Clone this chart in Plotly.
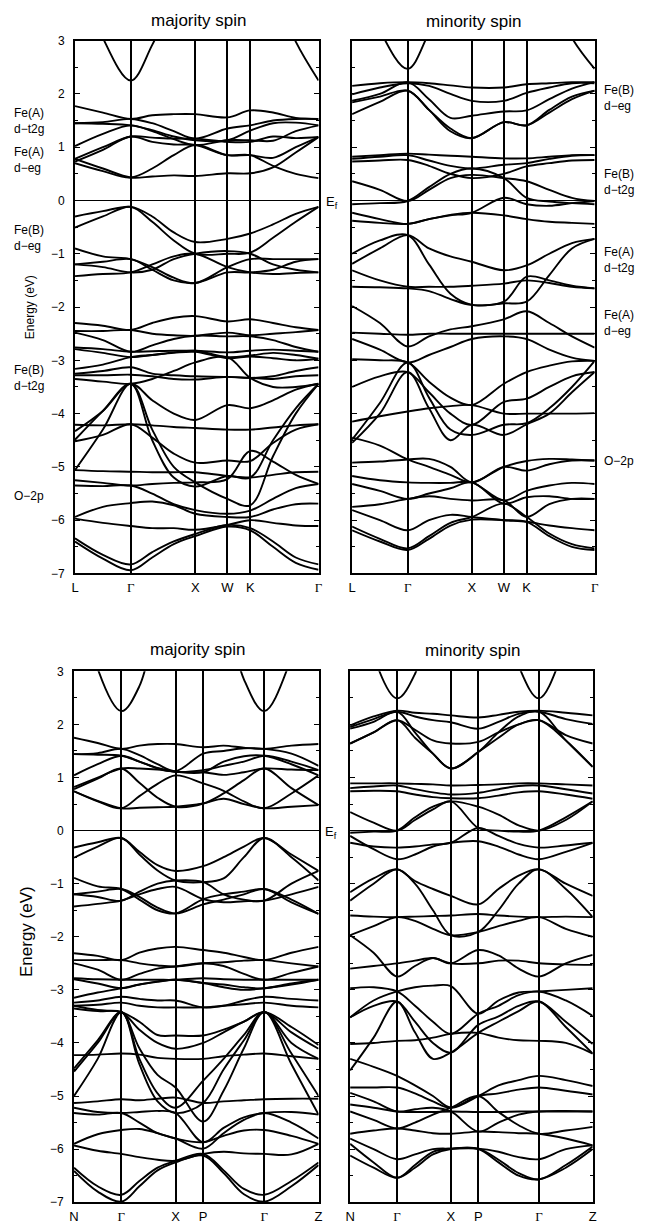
import plotly.graph_objects as go

# ---------------- k-paths ----------------
GAMMA = "<span style='font-family:Liberation Serif, Times New Roman, serif'>Γ</span>"
top_kpts = [0.0, 0.866, 1.866, 2.366, 2.720, 3.781]
top_klabels = ["L", GAMMA, "X", "W", "K", GAMMA]
top_knodes = [0.0, 0.433, 0.866, 1.199, 1.533, 1.866, 2.366, 2.720, 3.074, 3.427, 3.781]

bot_kpts = [0.0, 48.0, 103.0, 131.0, 193.0, 248.0]
bot_klabels = ["N", GAMMA, "X", "P", GAMMA, "Z"]
bot_knodes = [0.0, 24.0, 48.0, 66.3, 84.7, 103.0, 131.0, 151.7, 172.3, 193.0, 220.5, 248.0]

energy_ticks = [3, 2, 1, 0, -1, -2, -3, -4, -5, -6, -7]

# ---------------- top-left: majority spin (L-G-X-W-K-G) ----------------
maj_top_bands = [
    [4.6, 3.05, 2.25, 2.92, 3.8, 4.5, 4.8, 4.7, 4.0, 2.98, 2.25],
    [1.77, 1.65, 1.53, 1.60, 1.62, 1.62, 1.56, 1.69, 1.65, 1.55, 1.53],
    [1.45, 1.47, 1.53, 1.45, 1.30, 1.16, 1.35, 1.41, 1.50, 1.53, 1.53],
    [1.45, 1.44, 1.41, 1.32, 1.20, 1.13, 1.13, 1.31, 1.45, 1.46, 1.41],
    [1.02, 1.25, 1.41, 1.30, 1.15, 1.04, 1.13, 1.13, 1.12, 1.30, 1.41],
    [0.78, 1.00, 1.20, 1.18, 1.16, 1.16, 1.10, 1.10, 1.20, 1.17, 1.19],
    [0.73, 0.95, 1.20, 1.10, 1.05, 1.04, 0.85, 0.85, 0.80, 1.00, 1.19],
    [0.70, 0.55, 0.43, 0.60, 0.85, 1.04, 0.85, 0.85, 0.65, 0.50, 0.42],
    [0.78, 0.60, 0.43, 0.45, 0.47, 0.46, 0.51, 0.51, 0.62, 0.90, 1.19],
    [-0.30, -0.20, -0.12, -0.30, -0.60, -0.78, -0.72, -0.62, -0.45, -0.25, -0.12],
    [-0.51, -0.30, -0.12, -0.40, -0.75, -1.00, -1.00, -0.98, -0.70, -0.40, -0.12],
    [-0.90, -1.05, -1.10, -1.25, -1.45, -1.55, -1.25, -1.10, -1.10, -1.10, -1.10],
    [-1.20, -1.15, -1.10, -1.30, -1.50, -1.55, -1.35, -1.35, -1.30, -1.15, -1.10],
    [-1.42, -1.38, -1.35, -1.20, -1.05, -1.00, -1.25, -1.35, -1.38, -1.36, -1.35],
    [-1.20, -1.25, -1.35, -1.30, -1.10, -1.00, -0.95, -1.00, -1.20, -1.30, -1.35],
    [-2.30, -2.35, -2.43, -2.30, -2.20, -2.17, -2.27, -2.23, -2.30, -2.38, -2.43],
    [-2.45, -2.45, -2.43, -2.50, -2.53, -2.54, -2.48, -2.53, -2.50, -2.47, -2.43],
    [-2.48, -2.62, -2.84, -2.72, -2.60, -2.54, -2.55, -2.55, -2.62, -2.75, -2.84],
    [-2.76, -2.79, -2.84, -2.83, -2.82, -2.82, -2.85, -2.82, -2.80, -2.82, -2.84],
    [-2.79, -2.86, -2.94, -2.90, -2.85, -2.82, -2.94, -2.91, -2.86, -2.90, -2.97],
    [-3.16, -3.08, -2.94, -2.90, -2.86, -2.84, -2.96, -2.93, -2.96, -3.00, -2.97],
    [-3.25, -3.20, -3.13, -3.25, -3.28, -3.30, -3.31, -3.33, -3.30, -3.20, -3.13],
    [-3.28, -3.28, -3.27, -3.30, -3.35, -3.36, -3.31, -3.33, -3.35, -3.30, -3.28],
    [-3.35, -3.40, -3.44, -3.35, -3.20, -3.04, -2.94, -3.33, -3.50, -3.50, -3.44],
    [-4.21, -4.22, -4.20, -4.22, -4.25, -4.27, -4.30, -4.30, -4.26, -4.22, -4.20],
    [-4.33, -3.95, -3.44, -3.75, -4.00, -4.12, -3.84, -3.90, -3.75, -3.55, -3.44],
    [-4.49, -3.95, -3.44, -4.30, -5.00, -5.29, -5.60, -5.72, -4.80, -4.00, -3.44],
    [-5.06, -4.30, -3.44, -4.50, -5.20, -5.37, -5.17, -5.20, -4.50, -3.90, -3.44],
    [-4.52, -4.40, -4.20, -4.45, -4.75, -4.92, -4.88, -4.89, -4.55, -4.30, -4.20],
    [-5.06, -5.08, -5.09, -5.10, -5.10, -5.10, -5.17, -5.20, -5.15, -5.10, -5.09],
    [-5.25, -5.30, -5.35, -5.32, -5.30, -5.29, -5.23, -4.70, -4.90, -5.15, -5.32],
    [-5.35, -5.36, -5.35, -5.50, -5.70, -5.81, -5.88, -5.82, -5.60, -5.40, -5.32],
    [-5.94, -5.75, -5.68, -5.65, -5.72, -5.88, -5.94, -5.94, -5.80, -5.70, -5.69],
    [-5.97, -6.05, -6.11, -6.15, -6.15, -6.18, -6.09, -6.00, -6.05, -6.10, -6.11],
    [-6.34, -6.65, -6.83, -6.60, -6.40, -6.26, -6.09, -6.15, -6.40, -6.70, -6.83],
    [-6.40, -6.72, -6.94, -6.70, -6.45, -6.30, -6.12, -6.19, -6.50, -6.80, -6.93],
]

# ---------------- top-right: minority spin (L-G-X-W-K-G) ----------------
min_top_bands = [
    [4.8, 3.2, 2.47, 3.15, 4.0, 4.6, 4.9, 4.8, 4.0, 3.05, 2.47],
    [2.15, 2.20, 2.22, 2.20, 2.16, 2.12, 2.12, 2.18, 2.20, 2.22, 2.22],
    [1.99, 2.12, 2.20, 2.15, 2.00, 1.87, 1.87, 2.02, 2.12, 2.20, 2.20],
    [1.87, 2.00, 2.22, 1.90, 1.55, 1.59, 1.67, 1.69, 1.90, 2.10, 2.22],
    [1.84, 1.95, 2.06, 1.70, 1.30, 1.17, 1.47, 1.41, 1.70, 1.95, 2.06],
    [1.62, 1.85, 2.06, 1.70, 1.35, 1.17, 1.47, 1.41, 1.65, 1.90, 2.06],
    [0.82, 0.85, 0.88, 0.86, 0.84, 0.82, 0.79, 0.79, 0.82, 0.85, 0.85],
    [0.78, 0.82, 0.85, 0.75, 0.65, 0.60, 0.67, 0.70, 0.78, 0.84, 0.85],
    [0.73, 0.75, 0.76, 0.65, 0.50, 0.42, 0.50, 0.64, 0.70, 0.75, 0.76],
    [0.36, 0.20, -0.01, 0.20, 0.42, 0.48, 0.42, 0.36, 0.20, 0.05, -0.01],
    [-0.07, -0.05, -0.01, 0.25, 0.50, 0.60, 0.42, 0.05, -0.02, -0.05, -0.07],
    [-0.23, -0.35, -0.44, -0.35, -0.28, -0.23, 0.05, -0.07, -0.10, -0.05, -0.01],
    [-0.38, -0.42, -0.44, -0.35, -0.27, -0.23, -0.28, -0.35, -0.40, -0.42, -0.44],
    [-1.00, -0.75, -0.65, -1.20, -1.75, -1.96, -1.93, -1.90, -1.40, -0.90, -0.72],
    [-1.19, -0.90, -0.65, -0.90, -1.05, -1.15, -1.31, -1.22, -1.00, -0.80, -0.72],
    [-1.31, -1.50, -1.62, -1.62, -1.62, -1.60, -1.56, -1.50, -1.55, -1.62, -1.65],
    [-1.62, -1.63, -1.65, -1.70, -1.85, -1.96, -1.90, -1.43, -1.50, -1.60, -1.65],
    [-1.98, -2.30, -2.74, -2.55, -2.42, -2.36, -2.23, -2.08, -2.30, -2.55, -2.76],
    [-2.48, -2.50, -2.52, -2.50, -2.50, -2.50, -2.50, -2.50, -2.50, -2.50, -2.50],
    [-2.60, -2.80, -3.04, -2.90, -2.75, -2.60, -2.55, -2.60, -2.80, -2.95, -3.01],
    [-2.98, -3.00, -3.04, -3.40, -3.70, -3.84, -3.44, -3.22, -3.10, -3.02, -3.01],
    [-3.50, -3.30, -3.22, -3.60, -4.00, -4.21, -3.78, -3.72, -3.50, -3.30, -3.22],
    [-4.15, -4.05, -3.96, -3.90, -3.86, -3.84, -4.00, -4.00, -4.00, -4.00, -3.99],
    [-4.49, -3.80, -3.04, -3.70, -4.30, -4.40, -4.21, -4.18, -3.90, -3.50, -3.01],
    [-4.55, -4.00, -3.22, -3.90, -4.50, -4.21, -4.40, -4.20, -4.00, -3.60, -3.22],
    [-4.45, -4.60, -4.86, -5.00, -5.15, -5.29, -5.00, -4.89, -4.85, -4.86, -4.88],
    [-4.92, -4.90, -4.86, -4.85, -5.00, -5.29, -5.00, -5.07, -4.95, -4.88, -4.88],
    [-5.17, -5.25, -5.29, -5.30, -5.30, -5.29, -5.63, -5.45, -5.35, -5.30, -5.32],
    [-5.32, -5.45, -5.60, -5.50, -5.40, -5.29, -5.69, -5.57, -5.55, -5.60, -5.60],
    [-5.75, -5.70, -5.60, -5.55, -5.60, -5.63, -5.63, -5.94, -5.70, -5.60, -5.60],
    [-5.81, -6.00, -6.19, -6.00, -5.90, -5.94, -6.00, -6.03, -6.10, -6.15, -6.19],
    [-6.12, -6.35, -6.53, -6.30, -6.05, -5.94, -5.69, -5.94, -6.25, -6.45, -6.53],
    [-6.19, -6.40, -6.56, -6.35, -6.10, -5.99, -6.00, -6.03, -6.30, -6.50, -6.56],
]

# ---------------- bottom-left: majority spin (N-G-X-P-G-Z) ----------------
maj_bot_bands = [
    [5.5, 3.05, 2.25, 2.72, 4.0, 5.0, 5.5, 4.3, 2.85, 2.25, 3.25, 5.0],
    [1.75, 1.65, 1.54, 1.60, 1.63, 1.63, 1.57, 1.60, 1.56, 1.54, 1.60, 1.63],
    [1.44, 1.46, 1.54, 1.42, 1.25, 1.12, 1.45, 1.50, 1.55, 1.54, 1.45, 1.22],
    [1.44, 1.43, 1.41, 1.30, 1.18, 1.11, 1.14, 1.22, 1.30, 1.41, 1.30, 1.14],
    [1.04, 1.25, 1.41, 1.30, 1.17, 1.11, 1.10, 1.30, 1.40, 1.41, 1.25, 1.04],
    [0.82, 1.00, 1.17, 1.17, 1.15, 1.11, 1.10, 1.05, 1.10, 1.17, 1.15, 1.14],
    [0.78, 0.98, 1.17, 0.90, 0.62, 0.45, 0.51, 0.70, 0.95, 1.17, 0.80, 0.48],
    [0.74, 0.55, 0.42, 0.65, 0.88, 1.04, 0.89, 0.75, 0.55, 0.42, 0.70, 1.04],
    [0.74, 0.56, 0.42, 0.43, 0.44, 0.45, 0.51, 0.60, 0.50, 0.42, 0.45, 0.48],
    [-0.32, -0.22, -0.14, -0.40, -0.65, -0.76, -0.67, -0.50, -0.30, -0.14, -0.45, -0.76],
    [-0.51, -0.30, -0.14, -0.45, -0.75, -0.94, -0.97, -0.90, -0.50, -0.14, -0.50, -0.94],
    [-0.89, -1.05, -1.10, -1.30, -1.50, -1.56, -1.29, -1.20, -1.15, -1.10, -1.30, -1.57],
    [-1.20, -1.15, -1.10, -1.25, -1.45, -1.56, -1.39, -1.30, -1.20, -1.10, -1.35, -1.57],
    [-1.43, -1.38, -1.32, -1.20, -1.10, -1.06, -1.29, -1.35, -1.33, -1.32, -1.20, -1.06],
    [-1.20, -1.25, -1.32, -1.15, -1.00, -0.94, -0.97, -1.20, -1.30, -1.32, -1.00, -0.76],
    [-2.31, -2.36, -2.44, -2.30, -2.22, -2.19, -2.25, -2.30, -2.38, -2.44, -2.30, -2.19],
    [-2.44, -2.44, -2.44, -2.50, -2.54, -2.56, -2.50, -2.48, -2.45, -2.44, -2.50, -2.56],
    [-2.50, -2.62, -2.81, -2.70, -2.60, -2.56, -2.50, -2.55, -2.70, -2.81, -2.68, -2.56],
    [-2.78, -2.80, -2.81, -2.81, -2.81, -2.81, -2.78, -2.80, -2.81, -2.81, -2.81, -2.81],
    [-2.80, -2.88, -2.97, -2.90, -2.84, -2.81, -2.87, -2.90, -2.95, -2.97, -2.88, -2.81],
    [-3.15, -3.05, -2.97, -2.90, -2.85, -2.81, -2.87, -2.95, -3.00, -2.97, -2.90, -2.81],
    [-3.24, -3.20, -3.13, -3.17, -3.20, -3.20, -3.33, -3.30, -3.20, -3.13, -3.17, -3.20],
    [-3.30, -3.28, -3.24, -3.30, -3.33, -3.33, -3.33, -3.30, -3.27, -3.24, -3.30, -3.33],
    [-3.30, -3.38, -3.42, -3.60, -3.85, -3.86, -3.86, -3.75, -3.60, -3.42, -3.70, -4.04],
    [-3.35, -3.40, -3.42, -3.75, -4.00, -4.11, -4.00, -3.80, -3.60, -3.42, -3.80, -4.11],
    [-4.23, -4.22, -4.20, -4.22, -4.28, -4.30, -4.30, -4.25, -4.22, -4.20, -4.25, -4.30],
    [-4.48, -3.95, -3.42, -4.30, -4.95, -5.22, -4.71, -4.30, -3.85, -3.42, -4.20, -5.00],
    [-4.54, -4.00, -3.42, -4.40, -5.10, -5.32, -5.13, -4.50, -3.95, -3.42, -4.40, -5.35],
    [-5.00, -4.30, -3.42, -4.10, -4.60, -4.84, -5.48, -4.90, -4.10, -3.42, -4.00, -4.30],
    [-5.13, -5.10, -5.06, -5.08, -5.05, -5.03, -5.13, -5.10, -5.08, -5.06, -5.05, -5.05],
    [-5.22, -5.30, -5.32, -5.30, -5.28, -5.32, -5.87, -5.60, -5.40, -5.32, -5.30, -5.35],
    [-5.32, -5.35, -5.32, -5.50, -5.70, -5.80, -5.99, -5.70, -5.45, -5.32, -5.50, -5.80],
    [-5.90, -5.72, -5.64, -5.62, -5.70, -5.80, -5.87, -5.75, -5.65, -5.64, -5.75, -5.90],
    [-5.93, -6.03, -6.09, -6.15, -6.20, -6.22, -6.09, -6.05, -6.08, -6.09, -6.10, -5.90],
    [-6.35, -6.70, -6.86, -6.60, -6.35, -6.22, -6.09, -6.40, -6.75, -6.86, -6.60, -6.25],
    [-6.41, -6.80, -6.99, -6.70, -6.40, -6.25, -6.12, -6.45, -6.85, -6.99, -6.70, -6.30],
]

# ---------------- bottom-right: minority spin (N-G-X-P-G-Z) ----------------
min_bot_bands = [
    [6.0, 3.3, 2.49, 2.95, 4.2, 5.5, 5.5, 4.5, 3.1, 2.49, 3.5, 5.0],
    [1.98, 2.15, 2.26, 2.22, 2.20, 2.17, 2.13, 2.18, 2.24, 2.26, 2.22, 2.17],
    [1.95, 2.10, 2.24, 2.15, 2.08, 2.04, 1.92, 2.05, 2.20, 2.24, 2.10, 2.01],
    [1.92, 2.05, 2.24, 1.85, 1.45, 1.17, 1.48, 1.85, 2.15, 2.24, 1.70, 1.20],
    [1.64, 1.85, 2.08, 1.75, 1.45, 1.17, 1.48, 1.75, 2.00, 2.08, 1.70, 1.20],
    [1.64, 1.85, 2.08, 1.90, 1.70, 1.64, 1.67, 1.85, 2.00, 2.08, 1.80, 1.64],
    [0.89, 0.89, 0.89, 0.88, 0.87, 0.85, 0.86, 0.87, 0.89, 0.89, 0.87, 0.85],
    [0.80, 0.83, 0.85, 0.78, 0.72, 0.68, 0.71, 0.78, 0.84, 0.85, 0.78, 0.70],
    [0.74, 0.75, 0.74, 0.68, 0.63, 0.61, 0.61, 0.66, 0.72, 0.74, 0.68, 0.60],
    [0.35, 0.15, 0.00, 0.20, 0.40, 0.55, 0.05, 0.00, -0.02, 0.00, 0.25, 0.55],
    [-0.04, -0.02, 0.00, 0.25, 0.45, 0.55, 0.45, 0.30, 0.10, 0.00, 0.20, 0.55],
    [-0.23, -0.30, -0.32, -0.30, -0.26, -0.23, 0.05, -0.10, -0.25, -0.32, -0.28, -0.23],
    [-0.10, -0.35, -0.54, -0.45, -0.30, -0.23, -0.20, -0.30, -0.45, -0.54, -0.40, -0.23],
    [-1.16, -0.90, -0.73, -0.95, -1.10, -1.23, -1.39, -1.10, -0.85, -0.73, -1.00, -1.23],
    [-1.32, -1.00, -0.73, -1.00, -1.50, -1.97, -1.91, -1.50, -1.00, -0.73, -1.10, -1.63],
    [-1.60, -1.62, -1.63, -1.62, -1.61, -1.60, -1.57, -1.60, -1.62, -1.63, -1.62, -1.63],
    [-1.97, -1.80, -1.63, -1.70, -1.85, -1.97, -1.91, -1.80, -1.70, -1.63, -1.85, -2.00],
    [-1.97, -2.30, -2.75, -2.55, -2.40, -2.50, -2.25, -2.35, -2.60, -2.75, -2.50, -2.34],
    [-2.60, -2.55, -2.50, -2.45, -2.40, -2.50, -2.50, -2.45, -2.45, -2.50, -2.52, -2.53],
    [-2.97, -2.95, -3.03, -3.30, -3.60, -3.83, -3.45, -3.30, -3.10, -3.03, -3.20, -3.49],
    [-3.52, -3.30, -3.22, -3.60, -4.00, -4.18, -3.66, -3.50, -3.30, -3.22, -3.60, -4.02],
    [-3.52, -3.20, -3.03, -2.95, -2.92, -2.93, -3.45, -3.20, -3.05, -3.03, -3.00, -2.97],
    [-4.02, -4.00, -3.96, -3.95, -3.90, -3.83, -3.81, -3.90, -3.95, -3.96, -4.00, -4.20],
    [-4.52, -3.90, -3.22, -3.80, -4.30, -4.18, -3.81, -3.60, -3.40, -3.22, -3.70, -4.20],
    [-4.30, -4.45, -4.62, -4.80, -5.00, -5.22, -5.00, -4.80, -4.70, -4.62, -4.70, -4.81],
    [-4.84, -4.84, -4.84, -4.95, -5.10, -5.22, -5.00, -4.95, -4.88, -4.84, -4.90, -4.97],
    [-4.94, -5.10, -5.29, -5.25, -5.22, -5.29, -5.67, -5.50, -5.35, -5.29, -5.28, -5.29],
    [-5.16, -5.22, -5.29, -5.30, -5.30, -5.29, -5.30, -5.30, -5.29, -5.29, -5.29, -5.29],
    [-5.29, -5.45, -5.61, -5.50, -5.35, -5.22, -5.00, -5.30, -5.55, -5.71, -5.65, -5.58],
    [-5.71, -5.65, -5.61, -5.65, -5.70, -5.71, -5.67, -5.68, -5.70, -5.71, -5.80, -5.93],
    [-5.80, -6.00, -6.19, -6.10, -6.00, -5.99, -5.99, -6.05, -6.15, -6.19, -6.00, -5.93],
    [-5.90, -6.25, -6.54, -6.30, -6.05, -5.99, -5.99, -6.20, -6.45, -6.57, -6.30, -5.95],
    [-6.12, -6.35, -6.54, -6.35, -6.10, -6.00, -6.00, -6.25, -6.50, -6.57, -6.35, -6.00],
]

# ---------------- figure ----------------
W, H = 645, 1228
FONT = "Liberation Sans, Arial, Helvetica, sans-serif"

def px(x):
    return x / W

def py(y):
    return 1 - y / H

fig = go.Figure()

panels = [
    ("x", "y", top_knodes, maj_top_bands),
    ("x2", "y2", top_knodes, min_top_bands),
    ("x3", "y3", bot_knodes, maj_bot_bands),
    ("x4", "y4", bot_knodes, min_bot_bands),
]
for xa, ya, knodes, bands in panels:
    for band in bands:
        fig.add_trace(go.Scatter(
            x=knodes, y=band, xaxis=xa, yaxis=ya, mode="lines",
            line=dict(color="black", width=1.9, shape="spline", smoothing=1.0),
            hoverinfo="skip", showlegend=False))

def xaxis(domain, kpts, labels, anchor):
    return dict(domain=domain, anchor=anchor, range=[kpts[0], kpts[-1]],
                tickmode="array", tickvals=kpts, ticktext=labels,
                showgrid=True, gridcolor="black", gridwidth=1.6,
                ticks="", showline=True, mirror=True, linecolor="black", linewidth=1.8,
                zeroline=False, tickfont=dict(family=FONT, size=13, color="black"),
                ticklabelstandoff=1)

def yaxis(domain, anchor, labels):
    return dict(domain=domain, anchor=anchor, range=[-7, 3],
                tickmode="array", tickvals=energy_ticks,
                showticklabels=labels, ticks="inside", ticklen=5, tickwidth=1.3,
                tickcolor="black",
                minor=dict(dtick=0.5, ticks="inside", ticklen=3, tickcolor="black", tickwidth=1),
                showline=True, mirror="ticks", linecolor="black", linewidth=1.8,
                showgrid=False, zeroline=True, zerolinecolor="black", zerolinewidth=1.3,
                tickfont=dict(family=FONT, size=12, color="black"),
                ticklabelstandoff=6)

top_y = [py(573), py(34)]
bot_y = [py(1209), py(672)]
fig.update_layout(
    width=W, height=H, margin=dict(l=0, r=0, t=0, b=0),
    paper_bgcolor="white", plot_bgcolor="white",
    xaxis=xaxis([px(71), px(318)], top_kpts, top_klabels, "y"),
    yaxis=yaxis(top_y, "x", True),
    xaxis2=xaxis([px(352), px(598)], top_kpts, top_klabels, "y2"),
    yaxis2=yaxis(top_y, "x2", False),
    xaxis3=xaxis([px(70), px(318)], bot_kpts, bot_klabels, "y3"),
    yaxis3=yaxis(bot_y, "x3", True),
    xaxis4=xaxis([px(350), px(596)], bot_kpts, bot_klabels, "y4"),
    yaxis4=yaxis(bot_y, "x4", False),
)

def note(text, x, y, size=12, xanchor="left", angle=0):
    fig.add_annotation(text=text, x=px(x), y=py(y), xref="paper", yref="paper",
                       xanchor=xanchor, yanchor="middle", showarrow=False, textangle=angle,
                       align="left", font=dict(family=FONT, size=size, color="black"))

# titles
note("majority spin", 196, 14, size=17, xanchor="center")
note("minority spin", 475, 15, size=17, xanchor="center")
note("majority spin", 195, 650, size=17, xanchor="center")
note("minority spin", 474, 651, size=17, xanchor="center")

# energy labels
note("Energy (eV)", 25, 304, size=12, xanchor="center", angle=-90)
note("Energy (eV)", 22, 935, size=17, xanchor="center", angle=-90)

# E_f labels
note("E<sub>f</sub>", 324, 198, size=13)
note("E<sub>f</sub>", 323, 835, size=13)

# orbital character labels, left
note("Fe(A)<br>d−t2g", 7, 115, size=12)
note("Fe(A)<br>d−eg", 7, 155, size=12)
note("Fe(B)<br>d−eg", 7, 234, size=12)
note("Fe(B)<br>d−t2g", 7, 375, size=12)
note("O−2p", 7, 495, size=12)

# orbital character labels, right
note("Fe(B)<br>d−eg", 605, 92, size=12)
note("Fe(B)<br>d−t2g", 605, 177, size=12)
note("Fe(A)<br>d−t2g", 605, 256, size=12)
note("Fe(A)<br>d−eg", 605, 320, size=12)
note("O−2p", 605, 459, size=12)

fig.write_html("out.html")
